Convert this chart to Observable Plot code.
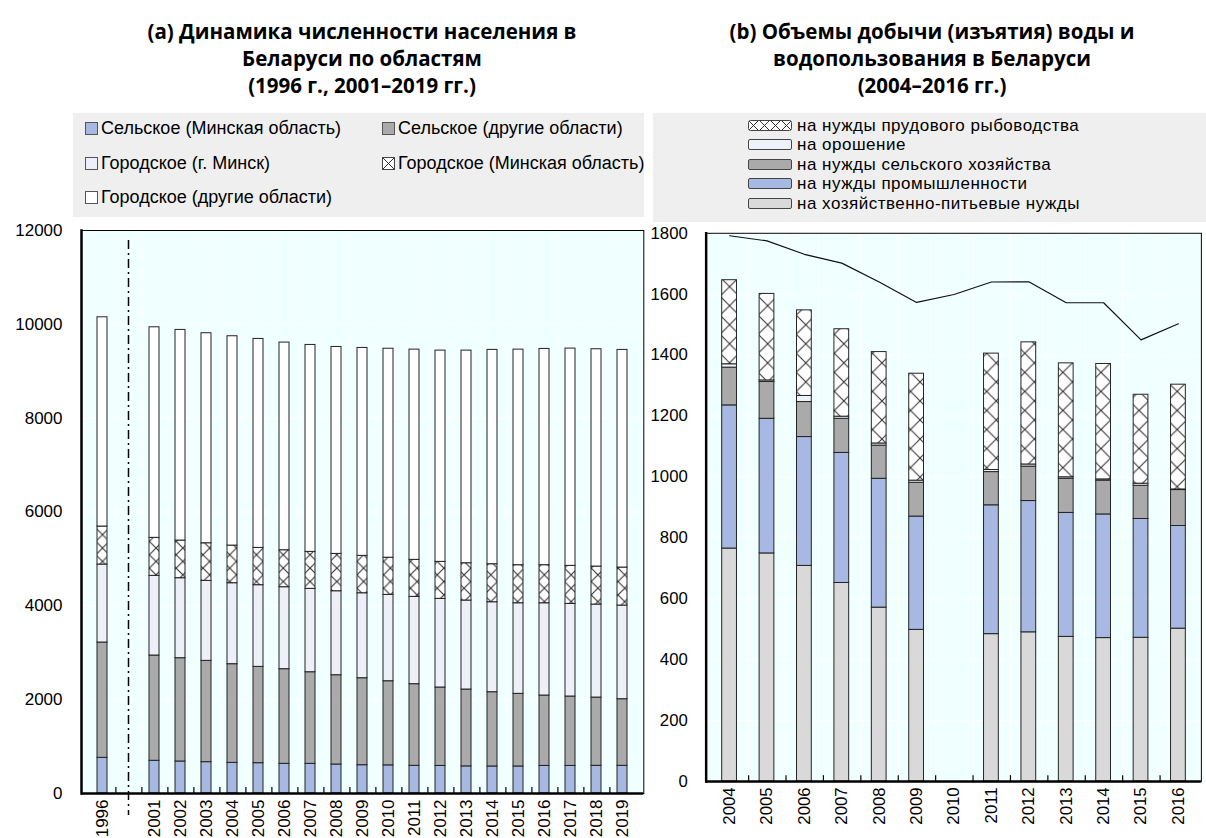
<!DOCTYPE html>
<html lang="ru">
<head>
<meta charset="utf-8">
<script src="https://cdn.jsdelivr.net/npm/d3@7"></script>
<script src="https://cdn.jsdelivr.net/npm/@observablehq/plot@0.6"></script>
<style>
  html, body { margin: 0; padding: 0; background: #fff; overflow: hidden; }
  #page { position: relative; width: 1206px; height: 838px; overflow: hidden;
          font-family: "Liberation Sans", Arial, sans-serif; color: #000; }
  .title { position: absolute; top: 18px; font-family: "Open Sans", "Noto Sans", sans-serif; font-weight: 700;
           font-size: 20.5px; line-height: 27px; text-align: center; white-space: nowrap; }
  .legend { position: absolute; background: #efefef; }
  .item { position: absolute; display: flex; align-items: center; font-size: 18px; line-height: 18px; white-space: nowrap; }
  #legendB .item { font-size: 17px; letter-spacing: 0.5px; line-height: 17px; height: 17px; }
  .sq { width: 11px; height: 11px; border: 1px solid #555; margin-right: 3px; box-sizing: content-box; display: inline-block; }
  .rect { width: 42px; height: 9px; border: 1px solid #444; border-radius: 2px; margin-right: 5px; display: inline-block; }
  .chart { position: absolute; }
</style>
</head>
<body>
<div id="page">
  <div class="title" style="left:81px;width:562px">(a) Динамика численности населения в<br>Беларуси по областям<br>(1996 г., 2001–2019 гг.)</div>
  <div class="title" style="left:656px;width:552px">(b) Объемы добычи (изъятия) воды и<br>водопользования в Беларуси<br>(2004–2016 гг.)</div>
  <div class="legend" id="legendA" style="left:73px;top:113px;width:571px;height:104px"></div>
  <div class="legend" id="legendB" style="left:653px;top:113px;width:553px;height:109px"></div>
  <div class="chart" id="chartA" style="left:0;top:220px"></div>
  <div class="chart" id="chartB" style="left:640px;top:220px"></div>
</div>
<script>
// ---------- (a) population by region, thousand people ----------
const gapKey = "-";
const categoriesA = ["1996", gapKey, "2001", "2002", "2003", "2004", "2005", "2006", "2007", "2008", "2009", "2010",
  "2011", "2012", "2013", "2014", "2015", "2016", "2017", "2018", "2019"];
const yearsA = ["1996", "2001", "2002", "2003", "2004", "2005", "2006", "2007", "2008", "2009", "2010",
  "2011", "2012", "2013", "2014", "2015", "2016", "2017", "2018", "2019"];
const ruralMinskRegion = [760, 697, 682, 668, 653, 646, 632, 632, 618, 603, 600, 590, 588, 578, 576, 576, 588, 588, 590, 590];
const ruralOther = [2458, 2244, 2202, 2159, 2103, 2053, 2018, 1953, 1903, 1854, 1793, 1740, 1671, 1638, 1583, 1548, 1500, 1479, 1455, 1420];
const urbanMinskCity = [1662, 1698, 1705, 1705, 1726, 1741, 1747, 1777, 1790, 1811, 1841, 1861, 1889, 1897, 1918, 1931, 1967, 1974, 1982, 1996];
const urbanMinskRegion = [810, 810, 802, 802, 802, 795, 788, 788, 796, 797, 792, 789, 789, 795, 810, 811, 811, 811, 810, 810];
const urbanOther = [4460, 4488, 4490, 4476, 4462, 4454, 4426, 4411, 4411, 4432, 4454, 4481, 4503, 4532, 4568, 4595, 4610, 4631, 4632, 4639];
const seriesA = ["Сельское (Минская область)", "Сельское (другие области)", "Городское (г. Минск)",
  "Городское (Минская область)", "Городское (другие области)"];
const yTicksA = [0, 2000, 4000, 6000, 8000, 10000, 12000];

// ---------- (b) water withdrawal and use, million m3 ----------
const yearsB = ["2004", "2005", "2006", "2007", "2008", "2009", "2010", "2011", "2012", "2013", "2014", "2015", "2016"];
const household = [765, 749, 708, 652, 571, 498, null, 484, 490, 475, 471, 472, 502];
const industry = [470, 442, 423, 427, 423, 372, null, 423, 431, 407, 406, 390, 337];
const agriculture = [124, 121, 115, 112, 109, 111, null, 109, 113, 112, 111, 109, 118];
const irrigation = [11, 5, 20, 7, 7, 7, null, 7, 7, 5, 4, 7, 2];
const fishPonds = [276, 284, 281, 287, 300, 351, null, 382, 401, 374, 379, 292, 344];
const withdrawal = [1792, 1775, 1731, 1702, 1640, 1573, 1599, 1640, 1641, 1572, 1572, 1450, 1503];
const seriesB = ["на хозяйственно-питьевые нужды", "на нужды промышленности", "на нужды сельского хозяйства",
  "на орошение", "на нужды прудового рыбоводства"];
const yTicksB = [0, 200, 400, 600, 800, 1000, 1200, 1400, 1600, 1800];

// ---------- styling ----------
const FONT = '"Liberation Sans", Arial, sans-serif';
const fillsA = ["#a7b8e2", "#aaaaaa", "#edf0f8", "url(#hatchA)", "#ffffff"];
const fillsB = ["#d9d9d9", "#a7b8e2", "#aaaaaa", "#eef2fb", "url(#hatchB)"];
const plotBg = "#f0ffff";

// long-format rows for stacking
const rowsA = [];
[ruralMinskRegion, ruralOther, urbanMinskCity, urbanMinskRegion, urbanOther].forEach((vals, k) =>
  yearsA.forEach((year, i) => rowsA.push({year, series: seriesA[k], value: vals[i]})));
const rowsB = [];
[household, industry, agriculture, irrigation, fishPonds].forEach((vals, k) =>
  yearsB.forEach((year, i) => { if (vals[i] != null) rowsB.push({year, series: seriesB[k], value: vals[i]}); }));
const lineB = yearsB.map((year, i) => ({year, value: withdrawal[i]}));

// crosshatch pattern aligned to the bar centres of a band scale
function addHatch(svg, chart, cats, id, tile) {
  const sx = chart.scale("x");
  const bw = sx.bandwidth || 0;
  const x0 = sx.apply(cats[0]) + bw / 2;
  const defs = d3.select(svg).insert("defs", ":first-child");
  const p = defs.append("pattern").attr("id", id).attr("patternUnits", "userSpaceOnUse")
    .attr("width", tile).attr("height", tile).attr("x", x0 - tile / 2 + 0.5).attr("y", 0);
  p.append("rect").attr("width", tile).attr("height", tile).attr("fill", "#fff");
  p.append("path").attr("d", `M0,0L${tile},${tile}M${tile},0L0,${tile}`)
    .attr("stroke", "#333").attr("stroke-width", 1.1).attr("fill", "none");
}

function buildChart({cats, rows, series, fills, yDomain, yTicks, width, height, margin, tickPadY, line, gap}) {
  const plotH = height - margin.top - margin.bottom;
  const step = (width - margin.left - margin.right) / cats.length;
  const inner = cats.slice(0, -1);
  const marks = [
    Plot.frame({fill: plotBg, stroke: null}),
    Plot.gridY(yTicks, {stroke: "#fff", strokeOpacity: 1, strokeWidth: 1}),
    Plot.ruleX(inner, {x: d => d, dx: step / 2, stroke: "#fff", strokeWidth: 1}),
    Plot.barY(rows, Plot.stackY({x: "year", y: "value", fill: "series", stroke: "#222", strokeWidth: 1})),
  ];
  if (line) marks.push(Plot.line(line, {x: "year", y: "value", stroke: "#111", strokeWidth: 1.2}));
  if (gap) marks.push(Plot.ruleX([gap], {x: d => d, stroke: "#000", strokeWidth: 1.5,
    strokeDasharray: "9,4,2,4", insetTop: 10, insetBottom: -22}));
  marks.push(
    Plot.ruleX(inner, {x: d => d, dx: step / 2, insetTop: plotH - 6, stroke: "#000", strokeWidth: 1.2}),
    Plot.axisY(yTicks, {tickSize: 0, tickPadding: tickPadY, tickFormat: d3.format("d")}),
    Plot.axisX({tickSize: 0, tickRotate: -90, tickPadding: 6, tickFormat: d => d === gapKey ? "" : d}),
    Plot.frame({stroke: "#000", strokeWidth: 1}),
    Plot.frame({anchor: "left", stroke: "#000", strokeWidth: 2.5}),
    Plot.ruleY([0], {stroke: "#000", strokeWidth: 2.5})
  );
  return Plot.plot({
    width, height,
    marginTop: margin.top, marginRight: margin.right, marginBottom: margin.bottom, marginLeft: margin.left,
    style: {fontFamily: FONT, fontSize: "17px", color: "#000", background: "transparent", overflow: "visible"},
    x: {type: "band", domain: cats, paddingInner: 0.6, paddingOuter: 0.3, label: null},
    y: {domain: yDomain, label: null},
    color: {type: "ordinal", domain: series, range: fills},
    marks
  });
}

const chartA = buildChart({
  cats: categoriesA, rows: rowsA, series: seriesA, fills: fillsA, yDomain: [0, 12000], yTicks: yTicksA,
  width: 648, height: 618, margin: {top: 10, right: 4.7, bottom: 45, left: 81}, tickPadY: 19, gap: gapKey
});
addHatch(chartA, chartA, categoriesA, "hatchA", 26.78 / 2);
document.getElementById("chartA").appendChild(chartA);

const chartB = buildChart({
  cats: yearsB, rows: rowsB, series: seriesB, fills: fillsB, yDomain: [0, 1800], yTicks: yTicksB,
  width: 575, height: 618, margin: {top: 13, right: 5.2, bottom: 48, left: 66.7}, tickPadY: 18.7, line: lineB
});
addHatch(chartB, chartB, yearsB, "hatchB", 38.7 / 2);
document.getElementById("chartB").appendChild(chartB);

// ---------- legends ----------
const hatchIcon = (w, h, tile) =>
  `<svg width="${w}" height="${h}" style="margin-right:${w > 20 ? 5 : 3}px;display:inline-block">
     <defs><pattern id="ic${w}" patternUnits="userSpaceOnUse" width="${tile}" height="${h}">
       <rect width="${tile}" height="${h}" fill="#fff"/>
       <path d="M0,0L${tile},${h}M${tile},0L0,${h}" stroke="#333" stroke-width="1" fill="none"/></pattern></defs>
     <rect x="0.5" y="0.5" width="${w - 1}" height="${h - 1}" rx="${w > 20 ? 2 : 0}" fill="url(#ic${w})" stroke="#444"/></svg>`;

const legA = document.getElementById("legendA");
const posA = [[12, 15], [309, 15], [12, 50], [309, 50], [12, 84]];
seriesA.forEach((name, k) => {
  const el = document.createElement("div");
  el.className = "item";
  el.style.left = posA[k][0] + "px";
  el.style.top = (posA[k][1] - 9) + "px";
  const sw = k === 3 ? hatchIcon(13, 13, 13) : `<span class="sq" style="background:${fillsA[k]}"></span>`;
  el.innerHTML = sw + name;
  legA.appendChild(el);
});

const legB = document.getElementById("legendB");
const rowYB = [12, 31.5, 51, 70.5, 90];
[4, 3, 2, 1, 0].forEach((k, j) => {
  const el = document.createElement("div");
  el.className = "item";
  el.style.left = "95px";
  el.style.top = (rowYB[j] - 8.5) + "px";
  const sw = k === 4 ? hatchIcon(44, 11, 11) : `<span class="rect" style="background:${fillsB[k]}"></span>`;
  el.innerHTML = sw + seriesB[k];
  legB.appendChild(el);
});
</script>
</body>
</html>
